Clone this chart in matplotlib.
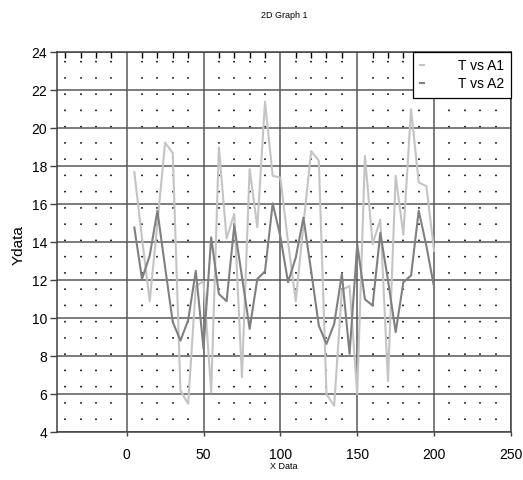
import matplotlib
matplotlib.use('Agg')
import matplotlib.pyplot as plt
from matplotlib.ticker import MultipleLocator

plt.rcParams['font.family'] = ['Liberation Sans', 'DejaVu Sans']
plt.rcParams['lines.scale_dashes'] = False

# data
t = list(range(5, 205, 5))
a1 = [17.7, 14.2, 10.9, 15.0, 19.25, 18.7, 6.2, 5.5, 11.7, 11.95,
      6.1, 19.0, 14.2, 15.5, 6.9, 17.85, 14.8, 21.4, 17.5, 17.4,
      14.0, 10.9, 14.9, 18.8, 18.3, 6.0, 5.4, 11.5, 11.7, 6.0,
      18.55, 13.9, 15.2, 6.7, 17.5, 14.4, 21.0, 17.15, 16.95, 13.55]
a2 = [14.78, 12.07, 13.3, 15.66, 12.7, 9.8, 8.83, 9.9, 12.5, 8.4,
      14.26, 11.28, 10.9, 14.87, 12.2, 9.44, 12.07, 12.47, 16.05, 14.3,
      11.9, 13.2, 15.3, 12.5, 9.62, 8.65, 9.7, 12.33, 8.13, 13.9,
      11.0, 10.67, 14.5, 12.0, 9.27, 11.9, 12.25, 15.66, 13.8, 11.63]

fig = plt.figure(figsize=(5.23, 4.8), dpi=100)
ax = fig.add_axes([0.109, 0.0994, 0.868, 0.7916])

ax.plot(t, a1, color='#c4c4c4', lw=1.5, label='T vs A1')
ax.plot(t, a2, color='#808080', lw=1.5, label='T vs A2')

ax.set_xlim(-45.3, 250)
ax.set_ylim(4, 24)
ax.set_xticks([0, 50, 100, 150, 200, 250])
ax.set_yticks(range(4, 25, 2))
ax.xaxis.set_minor_locator(MultipleLocator(10))

ax.set_axisbelow(True)
ax.grid(which='major', color='#585858', lw=1.1, ls='-')
ax.grid(which='minor', axis='x', color='black', lw=1.2,
        ls=(3.0, (1.1, 10.6)))

ax.tick_params(which='major', axis='x', direction='out', length=3,
               width=1, color='#404040', labelsize=10, pad=8)
ax.tick_params(which='major', axis='y', direction='out', length=5,
               width=1, color='#404040', labelsize=10, pad=2)
ax.tick_params(which='minor', axis='x', bottom=False, top=True,
               direction='in', length=4, width=1, color='black')
for s in ax.spines.values():
    s.set_color('#404040')
    s.set_linewidth(1.1)

leg = ax.legend(loc='upper right', fontsize=10, handlelength=0.35,
                handletextpad=2.4, borderaxespad=0, fancybox=False,
                framealpha=1, edgecolor='black', borderpad=0.5,
                labelspacing=0.25)
leg.get_frame().set_linewidth(0.9)

fig.text(0.543, 0.968, '2D Graph 1', ha='center', va='center', fontsize=6.5)
fig.text(0.543, 0.028, 'X Data', ha='center', va='center', fontsize=6.5)
fig.text(0.035, 0.49, 'Ydata', ha='center', va='center', rotation=90, fontsize=11)

fig.savefig('out.png', dpi=100)
